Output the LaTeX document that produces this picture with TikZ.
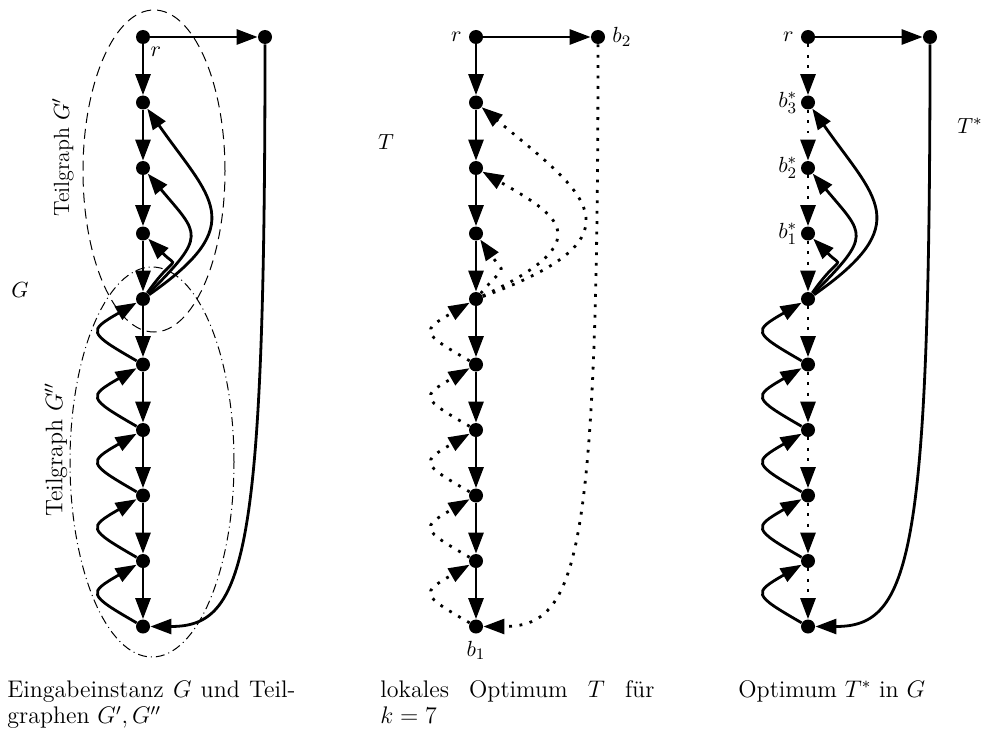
\documentclass[tikz,border=0pt]{standalone}
\usepackage{amsmath}
\usepackage{tikz}
\usetikzlibrary{arrows.meta,positioning,shapes.geometric}
\tikzset{
  vertex/.style={circle,fill=black,inner sep=0pt,minimum size=7pt},
  solidarc/.style={-{Triangle[length=10.5pt,width=7.5pt]},line width=1.4pt},
  dotarc/.style={solidarc,dash pattern=on 1.4pt off 3.8pt},
  subgraphring/.style={draw,ellipse,line width=0.5pt,inner sep=0pt},
  captext/.style={anchor=base west,inner sep=0pt,text width=137pt,align=justify,
                  font=\fontsize{12}{13.4}\selectfont}
}
\begin{document}
\begin{tikzpicture}[x=0.5pt,y=0.5pt,font=\fontsize{11}{13.5}\selectfont]
  \useasboundingbox (0,0) rectangle (985,-733);

  % Knoten der drei Graphen
  \foreach \g/\x in {g/143,t/476,s/808}{
    \foreach \i in {0,...,9}
      \node[vertex] (\g\i) at (\x,-37-65.5*\i) {};
    \node[vertex] (\g x) at (\x+122,-37) {};
  }

  % Eingabeinstanz G
  \node[subgraphring,dash pattern=on 5pt off 3pt,minimum width=71pt,minimum height=161pt] (ringA) at (154,-171) {};
  \node[subgraphring,dash pattern=on 4.5pt off 2pt on 0.5pt off 2pt,minimum width=82pt,minimum height=195pt] (ringB) at (152,-462) {};
  \node[rotate=90] (subA) at (63,-157) {Teilgraph $G'$};
  \node[rotate=90,font=\fontsize{12}{14}\selectfont] (subB) at (56,-450) {Teilgraph $G''$};
  \node (gname) at (20,-290) {$G$};
  \node[below right=1pt and 0pt of g0,inner sep=1pt] (gr) {$r$};

  \draw[solidarc] (g0) -- (gx);
  \foreach \i [count=\j] in {0,...,8}
    \draw[solidarc] (g\i) -- (g\j);
  \foreach \i [count=\j from 5] in {4,...,8}
    \draw[solidarc] (g\j) to[out=150,in=-150,looseness=2.5] (g\i);
  \draw[solidarc] (g4) to[out=35,in=-55,out distance=62pt,in distance=55pt] (g1);
  \draw[solidarc] (g4) to[out=45,in=-50,out distance=42pt,in distance=40pt] (g2);
  \draw[solidarc] (g4) to[out=55,in=-45,out distance=25pt,in distance=22pt] (g3);
  \draw[solidarc] (gx) .. controls +(0,-523) and +(102,0) .. (g9);

  % lokales Optimum T
  \node (tname) at (386,-142) {$T$};
  \node[left=0pt of t0] (tr) {$r$};
  \node[right=0pt of tx] (tb2) {$b_2$};
  \node[below=0pt of t9] (tb1) {$b_1$};

  \draw[solidarc] (t0) -- (tx);
  \foreach \i [count=\j] in {0,...,8}
    \draw[solidarc] (t\i) -- (t\j);
  \foreach \i [count=\j from 5] in {4,...,8}
    \draw[dotarc] (t\j) to[out=150,in=-150,looseness=2.5] (t\i);
  \draw[dotarc] (t4) to[out=20,in=-40,out distance=90pt,in distance=65pt] (t1);
  \draw[dotarc] (t4) to[out=25,in=-30,out distance=66pt,in distance=43pt] (t2);
  \draw[dotarc] (t4) to[out=50,in=-55,out distance=20pt,in distance=22pt] (t3);
  \draw[dotarc] (tx) .. controls +(0,-523) and +(102,0) .. (t9);

  % Optimum T*
  \node (sname) at (970,-126) {$T^*$};
  \node[left=0pt of s0] (sr) {$r$};
  \node[left=0pt of s1,inner sep=1.5pt] (sb3) {$b_3^*$};
  \node[left=0pt of s2,inner sep=1.5pt] (sb2) {$b_2^*$};
  \node[left=0pt of s3,inner sep=1.5pt] (sb1) {$b_1^*$};

  \draw[solidarc] (s0) -- (sx);
  \foreach \i [count=\j] in {0,...,8}
    \draw[dotarc] (s\i) -- (s\j);
  \foreach \i [count=\j from 5] in {4,...,8}
    \draw[solidarc] (s\j) to[out=150,in=-150,looseness=2.5] (s\i);
  \draw[solidarc] (s4) to[out=35,in=-55,out distance=62pt,in distance=55pt] (s1);
  \draw[solidarc] (s4) to[out=45,in=-50,out distance=42pt,in distance=40pt] (s2);
  \draw[solidarc] (s4) to[out=55,in=-45,out distance=25pt,in distance=22pt] (s3);
  \draw[solidarc] (sx) .. controls +(0,-523) and +(102,0) .. (s9);

  % Unterschriften
  \node[captext,text width=144pt] (capG) at (7,-697) {Eingabeinstanz $G$ und Teil-\linebreak graphen $G',G''$};
  \node[captext] (capT) at (380,-697) {lokales Optimum $T$ für\linebreak $k=7$};
  \node[captext] (capS) at (738,-697) {Optimum $T^*$ in $G$};
\end{tikzpicture}
\end{document}
